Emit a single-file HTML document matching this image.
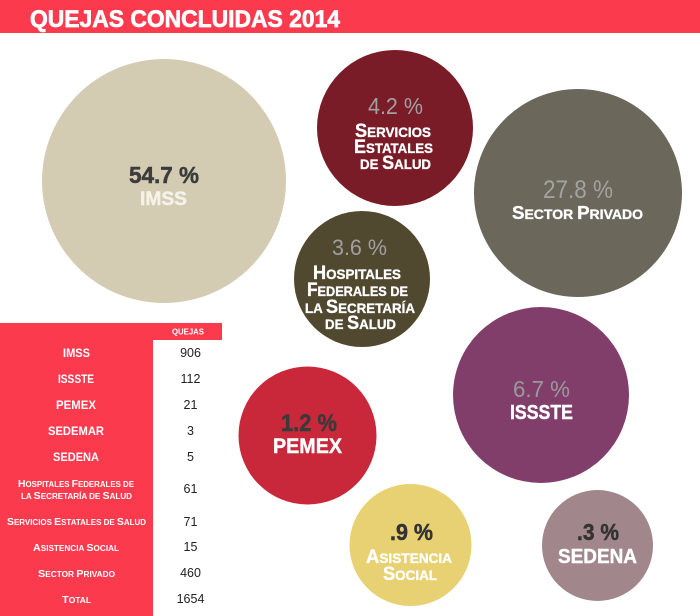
<!DOCTYPE html>
<html><head><meta charset="utf-8"><style>
html,body{margin:0;padding:0;background:#fff;}
svg{display:block;font-family:"Liberation Sans",Arial,sans-serif;}
</style></head><body>
<svg width="700" height="616" viewBox="0 0 700 616" xmlns="http://www.w3.org/2000/svg">
<rect width="700" height="616" fill="#fff"/>
<rect x="0" y="0" width="700" height="33" fill="#fb3a4e"/>
<text x="30" y="27" font-size="24" font-weight="bold" fill="#fff" stroke="#fff" stroke-width="0.7" textLength="310" lengthAdjust="spacingAndGlyphs">QUEJAS CONCLUIDAS 2014</text>

<!-- circles -->
<circle cx="164" cy="181" r="122" fill="#d3cbb2"/>
<circle cx="395" cy="128" r="78" fill="#7a1c27"/>
<circle cx="578" cy="193" r="104" fill="#6b675b"/>
<circle cx="362" cy="279" r="68" fill="#514830"/>
<circle cx="541" cy="395" r="88" fill="#823e6b"/>
<circle cx="307.5" cy="435.5" r="69" fill="#c8283a"/>
<circle cx="410.5" cy="545" r="61" fill="#e8d173"/>
<circle cx="597.5" cy="545.5" r="55.5" fill="#a1878b"/>

<g font-weight="bold" text-anchor="middle">
<!-- IMSS -->
<text x="164" y="183" font-size="23" fill="#3c3c3c" stroke="#3c3c3c" stroke-width="0.5" textLength="70" lengthAdjust="spacingAndGlyphs">54.7 %</text>
<text x="163.5" y="205" font-size="19" fill="#f5f2ea" stroke="#f5f2ea" stroke-width="0.4" textLength="47" lengthAdjust="spacingAndGlyphs">IMSS</text>

<!-- Servicios -->
<text x="395.5" y="114" font-size="23" font-weight="normal" fill="#a0a0a0" textLength="55" lengthAdjust="spacingAndGlyphs">4.2 %</text>
<g fill="#fff" stroke="#fff" stroke-width="0.35">
<text x="393" y="137" font-size="19" textLength="76" lengthAdjust="spacingAndGlyphs"><tspan>S</tspan><tspan font-size="14">ERVICIOS</tspan></text>
<text x="393.5" y="153" font-size="19" textLength="79" lengthAdjust="spacingAndGlyphs"><tspan>E</tspan><tspan font-size="14">STATALES</tspan></text>
<text x="395.5" y="169" font-size="19" textLength="71" lengthAdjust="spacingAndGlyphs"><tspan font-size="14">DE </tspan><tspan>S</tspan><tspan font-size="14">ALUD</tspan></text>
</g>

<!-- Sector Privado -->
<text x="578" y="198" font-size="25" font-weight="normal" fill="#a3a3a3" textLength="70" lengthAdjust="spacingAndGlyphs">27.8 %</text>
<text x="577.5" y="219" font-size="18" fill="#fff" stroke="#fff" stroke-width="0.35" textLength="131" lengthAdjust="spacingAndGlyphs"><tspan>S</tspan><tspan font-size="13.5">ECTOR </tspan><tspan>P</tspan><tspan font-size="13.5">RIVADO</tspan></text>

<!-- Hospitales -->
<text x="359.5" y="255" font-size="22" font-weight="normal" fill="#a0a0a0" textLength="55" lengthAdjust="spacingAndGlyphs">3.6 %</text>
<g fill="#fff" stroke="#fff" stroke-width="0.35">
<text x="357" y="279" font-size="19" textLength="88" lengthAdjust="spacingAndGlyphs"><tspan>H</tspan><tspan font-size="14">OSPITALES</tspan></text>
<text x="357.5" y="296" font-size="19" textLength="101" lengthAdjust="spacingAndGlyphs"><tspan>F</tspan><tspan font-size="14">EDERALES DE</tspan></text>
<text x="360" y="313" font-size="19" textLength="110" lengthAdjust="spacingAndGlyphs"><tspan font-size="14">LA </tspan><tspan>S</tspan><tspan font-size="14">ECRETARÍA</tspan></text>
<text x="360.5" y="329" font-size="19" textLength="71" lengthAdjust="spacingAndGlyphs"><tspan font-size="14">DE </tspan><tspan>S</tspan><tspan font-size="14">ALUD</tspan></text>
</g>

<!-- ISSSTE -->
<text x="541.5" y="397" font-size="23" font-weight="normal" fill="#9a9a9a" textLength="57" lengthAdjust="spacingAndGlyphs">6.7 %</text>
<text x="541.5" y="419" font-size="20" fill="#fff" stroke="#fff" stroke-width="0.4" textLength="63" lengthAdjust="spacingAndGlyphs">ISSSTE</text>

<!-- PEMEX -->
<text x="309" y="431" font-size="24" fill="#3a3a3a" stroke="#3a3a3a" stroke-width="0.5" textLength="56" lengthAdjust="spacingAndGlyphs">1.2 %</text>
<text x="307.5" y="453" font-size="21" fill="#fff" stroke="#fff" stroke-width="0.4" textLength="69" lengthAdjust="spacingAndGlyphs">PEMEX</text>

<!-- Asistencia -->
<text x="411.5" y="540" font-size="23" fill="#333" stroke="#333" stroke-width="0.5" textLength="43" lengthAdjust="spacingAndGlyphs">.9 %</text>
<g fill="#fff" stroke="#fff" stroke-width="0.35">
<text x="409" y="563" font-size="19" textLength="86" lengthAdjust="spacingAndGlyphs"><tspan>A</tspan><tspan font-size="14">SISTENCIA</tspan></text>
<text x="410" y="580" font-size="19" textLength="54" lengthAdjust="spacingAndGlyphs"><tspan>S</tspan><tspan font-size="14">OCIAL</tspan></text>
</g>

<!-- SEDENA -->
<text x="598" y="540" font-size="23" fill="#333" stroke="#333" stroke-width="0.5" textLength="42" lengthAdjust="spacingAndGlyphs">.3 %</text>
<text x="597.5" y="563" font-size="20" fill="#fff" stroke="#fff" stroke-width="0.4" textLength="79" lengthAdjust="spacingAndGlyphs">SEDENA</text>
</g>

<!-- table -->
<rect x="0" y="323" width="153" height="293" fill="#fb3a4e"/>
<rect x="153" y="323" width="69" height="17" fill="#fb3a4e"/>
<text x="188" y="334.5" font-size="8" font-weight="bold" fill="#fff" text-anchor="middle" textLength="32" lengthAdjust="spacingAndGlyphs">QUEJAS</text>

<g font-weight="bold" fill="#fff" text-anchor="middle" font-size="11.5">
<text x="76.5" y="357" textLength="27" lengthAdjust="spacingAndGlyphs">IMSS</text>
<text x="76" y="383" textLength="36" lengthAdjust="spacingAndGlyphs">ISSSTE</text>
<text x="76" y="409" textLength="40" lengthAdjust="spacingAndGlyphs">PEMEX</text>
<text x="76" y="435" textLength="56" lengthAdjust="spacingAndGlyphs">SEDEMAR</text>
<text x="76" y="461" textLength="46" lengthAdjust="spacingAndGlyphs">SEDENA</text>
<text x="76" y="487" font-size="10.5" textLength="116" lengthAdjust="spacingAndGlyphs"><tspan>H</tspan><tspan font-size="8">OSPITALES </tspan><tspan>F</tspan><tspan font-size="8">EDERALES DE</tspan></text>
<text x="76.5" y="499" font-size="10.5" textLength="111" lengthAdjust="spacingAndGlyphs"><tspan font-size="8">LA </tspan><tspan>S</tspan><tspan font-size="8">ECRETARÍA DE </tspan><tspan>S</tspan><tspan font-size="8">ALUD</tspan></text>
<text x="76.5" y="525" font-size="10.5" textLength="139" lengthAdjust="spacingAndGlyphs"><tspan>S</tspan><tspan font-size="8">ERVICIOS </tspan><tspan>E</tspan><tspan font-size="8">STATALES DE </tspan><tspan>S</tspan><tspan font-size="8">ALUD</tspan></text>
<text x="76" y="551" font-size="10.5" textLength="86" lengthAdjust="spacingAndGlyphs"><tspan>A</tspan><tspan font-size="8">SISTENCIA </tspan><tspan>S</tspan><tspan font-size="8">OCIAL</tspan></text>
<text x="76.5" y="577" font-size="10.5" textLength="77" lengthAdjust="spacingAndGlyphs"><tspan>S</tspan><tspan font-size="8">ECTOR </tspan><tspan>P</tspan><tspan font-size="8">RIVADO</tspan></text>
<text x="76.5" y="603" font-size="10.5" textLength="29" lengthAdjust="spacingAndGlyphs"><tspan>T</tspan><tspan font-size="8">OTAL</tspan></text>
</g>

<g fill="#222" text-anchor="middle" font-size="12.5">
<text x="190.5" y="357">906</text>
<text x="190.5" y="383">112</text>
<text x="190.5" y="409">21</text>
<text x="190.5" y="435">3</text>
<text x="190.5" y="461">5</text>
<text x="190.5" y="493">61</text>
<text x="190.5" y="526">71</text>
<text x="190.5" y="551">15</text>
<text x="190.5" y="577">460</text>
<text x="190.5" y="603">1654</text>
</g>
</svg>
</body></html>
